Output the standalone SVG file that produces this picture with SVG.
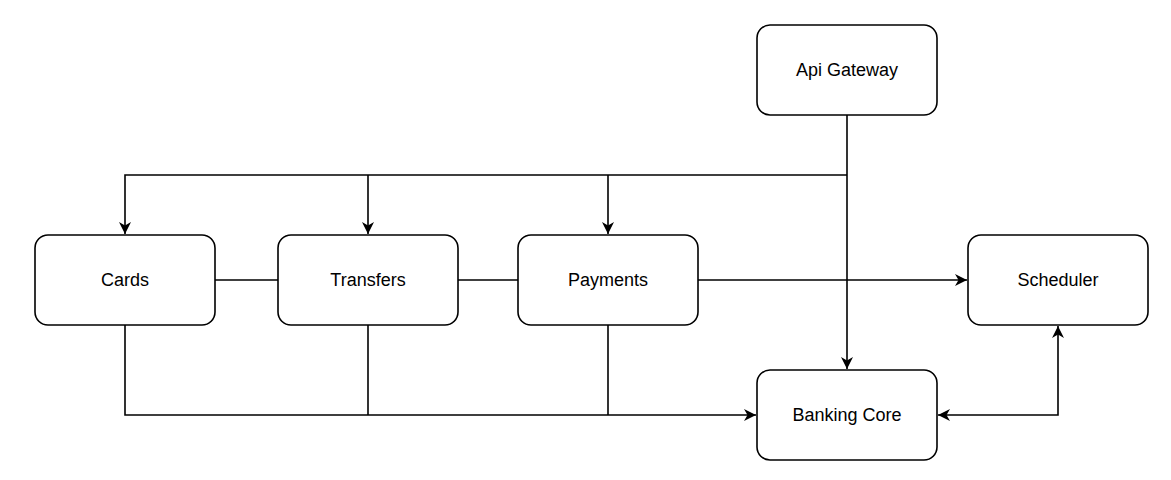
<svg xmlns="http://www.w3.org/2000/svg" width="1171" height="480" viewBox="0 0 1171 480">
<style>
.box{fill:#fff;stroke:#000;stroke-width:1.6}
.lbl{font-family:"Liberation Sans",Arial,sans-serif;font-size:18px;fill:#000;text-anchor:middle;dominant-baseline:central}
.edge{fill:none;stroke:#000;stroke-width:1.6}
</style>
<defs>
<marker id="arr" viewBox="0 0 12 12" refX="12" refY="6" markerWidth="12" markerHeight="12" markerUnits="userSpaceOnUse" orient="auto-start-reverse">
<path d="M0,0 L12,6 L0,12 L3.5,6 z" fill="#000"/>
</marker>
</defs>
<rect width="1171" height="480" fill="#fff"/>
<g id="connectors">
<path class="edge" d="M847,115 L847,369" marker-end="url(#arr)"/>
<path class="edge" d="M847,175 L125,175 L125,234" marker-end="url(#arr)"/>
<path class="edge" d="M368,175 L368,234" marker-end="url(#arr)"/>
<path class="edge" d="M608,175 L608,234" marker-end="url(#arr)"/>
<path class="edge" d="M215,280 L278,280"/>
<path class="edge" d="M458,280 L518,280"/>
<path class="edge" d="M698,280 L967,280" marker-end="url(#arr)"/>
<path class="edge" d="M125,325 L125,415 L756,415" marker-end="url(#arr)"/>
<path class="edge" d="M368,325 L368,415"/>
<path class="edge" d="M608,325 L608,415"/>
<path class="edge" d="M938,415 L1058,415 L1058,326" marker-start="url(#arr)" marker-end="url(#arr)"/>
</g>
<g id="api-gateway"><rect class="box" x="757" y="25" width="180" height="90" rx="13"/><text class="lbl" x="847" y="70">Api Gateway</text></g>
<g id="cards"><rect class="box" x="35" y="235" width="180" height="90" rx="13"/><text class="lbl" x="125" y="280">Cards</text></g>
<g id="transfers"><rect class="box" x="278" y="235" width="180" height="90" rx="13"/><text class="lbl" x="368" y="280">Transfers</text></g>
<g id="payments"><rect class="box" x="518" y="235" width="180" height="90" rx="13"/><text class="lbl" x="608" y="280">Payments</text></g>
<g id="scheduler"><rect class="box" x="968" y="235" width="180" height="90" rx="13"/><text class="lbl" x="1058" y="280">Scheduler</text></g>
<g id="banking-core"><rect class="box" x="757" y="370" width="180" height="90" rx="13"/><text class="lbl" x="847" y="415">Banking Core</text></g>
</svg>
